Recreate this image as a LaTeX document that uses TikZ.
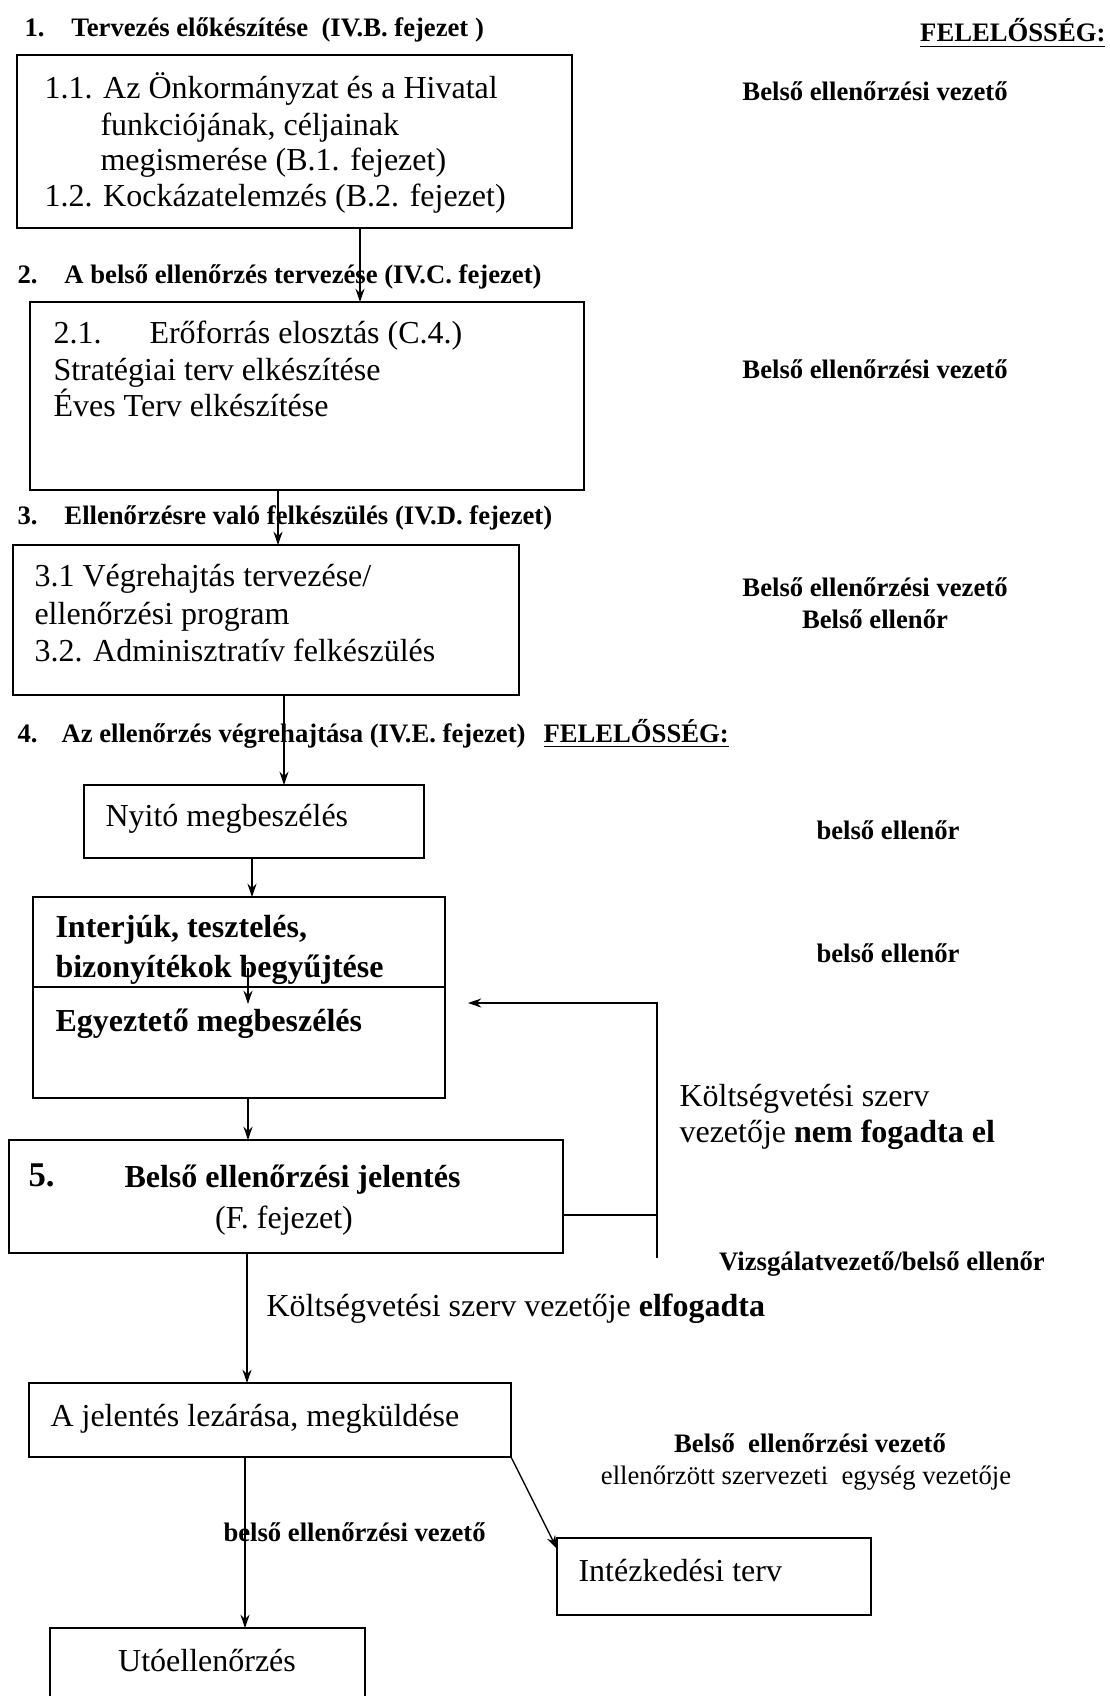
\documentclass[tikz,border=0pt]{standalone}
\usepackage{fontspec}
\setmainfont{Liberation Serif}
\usetikzlibrary{arrows.meta,positioning}

\begin{document}
\begin{tikzpicture}[x=0.375pt,y=-0.375pt,>={Stealth[length=5pt,width=3.4pt]},
  font=\fontsize{12}{14}\selectfont,
  doboz/.style 2 args={draw,line width=0.6pt,inner sep=0pt,outer sep=0pt,anchor=north west,
    minimum width=#1*0.375pt,minimum height=#2*0.375pt},
  sor/.style={anchor=base west,inner sep=0pt},
  fej/.style={anchor=base west,inner sep=0pt,font=\fontsize{10}{12}\selectfont\bfseries},
  felel/.style={anchor=base,inner sep=0pt,font=\fontsize{10}{12}\selectfont\bfseries},
  nyil/.style={->,line width=0.5pt}]
\useasboundingbox (0,0) rectangle (1109,1696);

% fejlecek
\node[fej] (h1) at (24,37) {\makebox[17.6pt][l]{1.}Tervezés előkészítése\ \ (IV.B. fejezet )};
\node[fej] (h2) at (17,284) {\makebox[17.6pt][l]{2.}A belső ellenőrzés tervezése (IV.C. fejezet)};
\node[fej] (h3) at (17,525) {\makebox[17.6pt][l]{3.}Ellenőrzésre való felkészülés (IV.D. fejezet)};
\node[fej] (h4) at (17,742) {\makebox[16.5pt][l]{4.}Az ellenőrzés végrehajtása (IV.E. fejezet)};
\node[fej,anchor=base east] (felfej) at (1106,42) {\underline{FELELŐSSÉG:}};
\node[fej] (felfej4) at (543,742) {\underline{FELELŐSSÉG:}};

% dobozok
\node[doboz={555}{173}] (b1) at (17,55) {};
\node[doboz={554}{188}] (b2) at (30,302) {};
\node[doboz={506}{150}] (b3) at (13,545) {};
\node[doboz={340}{73}] (nyito) at (84,785) {};
\node[doboz={412}{90}] (interju) at (33,897) {};
\node[doboz={412}{111}] (egyezt) at (33,987) {};
\node[doboz={554}{113}] (jelentes) at (9,1140) {};
\node[doboz={482}{74}] (lezaras) at (29,1383) {};
\node[doboz={314}{77}] (intezk) at (557,1538) {};
\node[doboz={315}{140}] (uto) at (50,1628) {};

% szovegek a dobozokban
\foreach \x/\y/\t [count=\i] in {44/99/{1.1. Az Önkormányzat és a Hivatal},
  100/136/{funkciójának, céljainak}, 100/171/{megismerése (B.1. fejezet)},
  44/207/{1.2. Kockázatelemzés (B.2. fejezet)}}
  \node[sor] (t1\i) at (\x,\y) {\t};
\foreach \x/\y/\t [count=\i] in {53/344/{2.1.\hspace{18pt}Erőforrás elosztás (C.4.)},
  53/381/{Stratégiai terv elkészítése}, 53/417/{Éves Terv elkészítése}}
  \node[sor] (t2\i) at (\x,\y) {\t};
\foreach \x/\y/\t [count=\i] in {34/586/{3.1 Végrehajtás tervezése/},
  34/624/{ellenőrzési program}, 34/661/{3.2. Adminisztratív felkészülés}}
  \node[sor] (t3\i) at (\x,\y) {\t};
\node[sor] (tnyito) at (105,826) {Nyitó megbeszélés};
\node[sor,font=\fontsize{12}{14}\selectfont\bfseries] (tint1) at (55,937) {Interjúk, tesztelés,};
\node[sor,font=\fontsize{12}{14}\selectfont\bfseries] (tint2) at (55,977) {bizonyítékok begyűjtése};
\node[sor,font=\fontsize{12}{14}\selectfont\bfseries] (tegy) at (55,1031) {Egyeztető megbeszélés};
\node[sor,font=\fontsize{13}{15}\selectfont\bfseries] (tot) at (28,1186) {5.};
\node[sor,font=\fontsize{12}{14}\selectfont\bfseries] (tjel) at (124,1187) {Belső ellenőrzési jelentés};
\node[anchor=base,inner sep=0pt] (tjelf) at (284,1228) {(F. fejezet)};
\node[sor] (tlez) at (50,1426) {A jelentés lezárása, megküldése};
\node[sor] (tint) at (578,1581) {Intézkedési terv};
\node[anchor=base,inner sep=0pt] (tuto) at (207,1671) {Utóellenőrzés};

% felelosok
\foreach \y/\t [count=\i] in {101/Belső ellenőrzési vezető,379/Belső ellenőrzési vezető,
  597/Belső ellenőrzési vezető,628/Belső ellenőr}
  \node[felel] (fel\i) at (875,\y) {\t};
\node[felel] (fel5) at (888,839) {belső ellenőr};
\node[felel] (fel6) at (888,962) {belső ellenőr};
\node[felel] (fel7) at (882,1270) {Vizsgálatvezető/belső ellenőr};
\node[felel] (fel8) at (810,1452) {Belső\ \ ellenőrzési vezető};
\node[felel,font=\fontsize{10}{12}\selectfont] (fel9) at (806,1484) {ellenőrzött szervezeti\ \ egység vezetője};
\node[fej] (fel10) at (223,1541) {belső ellenőrzési vezető};
\node[sor] (nemfog1) at (679,1106) {Költségvetési szerv};
\node[sor] (nemfog2) at (679,1142) {vezetője \textbf{nem fogadta el}};
\node[sor] (elfog) at (266,1316) {Költségvetési szerv vezetője \textbf{elfogadta}};

% nyilak
\draw[nyil] (b1.south -| 360,0) -- (b2.north -| 360,0);
\draw[nyil] (b2.south -| 278,0) -- (b3.north -| 278,0);
\draw[nyil] (b3.south -| 284,0) -- (nyito.north -| 284,0);
\draw[nyil] (nyito.south -| 252,0) -- (interju.north -| 252,0);
\coordinate (k1) at (248,968);
\coordinate (k2) at (248,1004);
\draw[nyil] (k1) -- (k2);
\draw[nyil] (egyezt.south -| 248,0) -- (jelentes.north -| 248,0);
\coordinate (vissza) at (468,1003);
\coordinate (alja) at (657,1258);
\draw[line width=0.5pt] (jelentes.east |- 0,1215) -- (alja |- 0,1215);
\draw[nyil] (alja) |- (vissza);
\draw[nyil] (jelentes.south -| 247,0) -- (lezaras.north -| 247,0);
\draw[nyil] (lezaras.south -| 245,0) -- (uto.north -| 245,0);
\draw[nyil] (lezaras.south east) -- (intezk.170);
\end{tikzpicture}
\end{document}
